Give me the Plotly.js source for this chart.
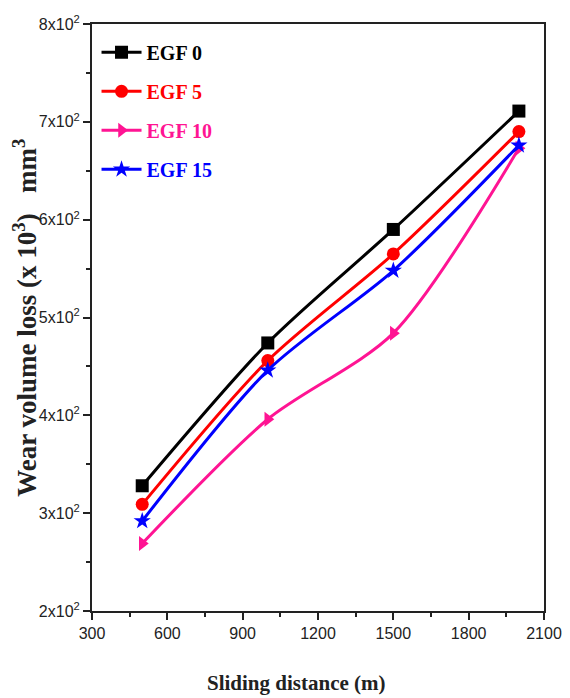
<!DOCTYPE html>
<html><head><meta charset="utf-8">
<script src="https://cdn.plot.ly/plotly-3.0.1.min.js"></script>
<style>body{margin:0;background:#fff}#c{width:570px;height:698px}</style>
</head><body><div id="c"></div>
<script>
const distance = [500, 1000, 1500, 2000];
const egf0  = [328, 474, 590, 711];
const egf5  = [309, 456, 565, 690];
const egf10 = [269, 396, 484, 673];
const egf15 = [292, 446, 548, 676];
const seriesNames = ['EGF 0', 'EGF 5', 'EGF 10', 'EGF 15'];
const yTickVals = [200, 300, 400, 500, 600, 700, 800];
const yTickText = ['2x10<sup>2</sup>','3x10<sup>2</sup>','4x10<sup>2</sup>','5x10<sup>2</sup>','6x10<sup>2</sup>','7x10<sup>2</sup>','8x10<sup>2</sup>'];
const xTickVals = [300, 600, 900, 1200, 1500, 1800, 2100];
const xTitle = 'Sliding distance (m)';
const yTitle = 'Wear volume loss (x 10<sup>3</sup>)   mm<sup>3</sup>';

const colors = ['#000000', '#ff0000', '#ff1493', '#0000ff'];
const symbols = ['square', 'circle', 'triangle-right', 'star'];
const data = [egf0, egf5, egf10, egf15];

const traces = data.map((ys, i) => ({
  x: distance, y: ys, type: 'scatter', mode: 'lines+markers',
  name: '<span style="color:' + colors[i] + '">' + seriesNames[i] + '</span>',
  legendgroup: 'g' + i,
  line: {color: colors[i], width: 3, shape: 'spline', smoothing: 0.8},
  marker: {color: colors[i], symbol: symbols[i], size: 13}
}));

const layout = {
  width: 570, height: 698,
  margin: {l: 92, r: 26, t: 24, b: 87},
  paper_bgcolor: '#fff', plot_bgcolor: '#fff',
  showlegend: true,
  legend: {x: 0.01, y: 0.985, xanchor: 'left', yanchor: 'top', bgcolor: 'rgba(0,0,0,0)',
    font: {family: 'Liberation Serif', size: 20, color: '#000', weight: 'bold'},
    tracegroupgap: 10, itemwidth: 40},
  xaxis: {
    range: [300, 2100], tickvals: xTickVals, ticks: 'outside', ticklen: 7, tickwidth: 2,
    tickcolor: '#222', showline: true, linecolor: '#222', linewidth: 2, mirror: true,
    showgrid: false, zeroline: false,
    tickfont: {family: 'Liberation Sans', size: 16, color: '#222'},
    minor: {dtick: 150, tick0: 300, ticks: 'outside', ticklen: 4, tickwidth: 2, tickcolor: '#222', showgrid: false}
  },
  yaxis: {
    range: [200, 800], tickvals: yTickVals, ticktext: yTickText, ticks: 'outside', ticklen: 7, tickwidth: 2,
    tickcolor: '#222', showline: true, linecolor: '#222', linewidth: 2, mirror: true,
    showgrid: false, zeroline: false,
    tickfont: {family: 'Liberation Sans', size: 16, color: '#222'},
    minor: {dtick: 50, tick0: 200, ticks: 'outside', ticklen: 4, tickwidth: 2, tickcolor: '#222', showgrid: false}
  },
  annotations: [
    {text: xTitle, xref: 'paper', yref: 'paper', x: 0.4535, y: -0.1227, xanchor: 'center', yanchor: 'middle',
     showarrow: false, font: {family: 'Liberation Serif', size: 21, color: '#222', weight: 'bold'}},
    {text: yTitle, xref: 'paper', yref: 'paper', x: -0.15, y: 0.5, xanchor: 'center', yanchor: 'middle',
     textangle: -90, showarrow: false, font: {family: 'Liberation Serif', size: 27, color: '#222', weight: 'bold'}}
  ]
};
Plotly.newPlot('c', traces, layout, {displayModeBar: false});
</script></body></html>
